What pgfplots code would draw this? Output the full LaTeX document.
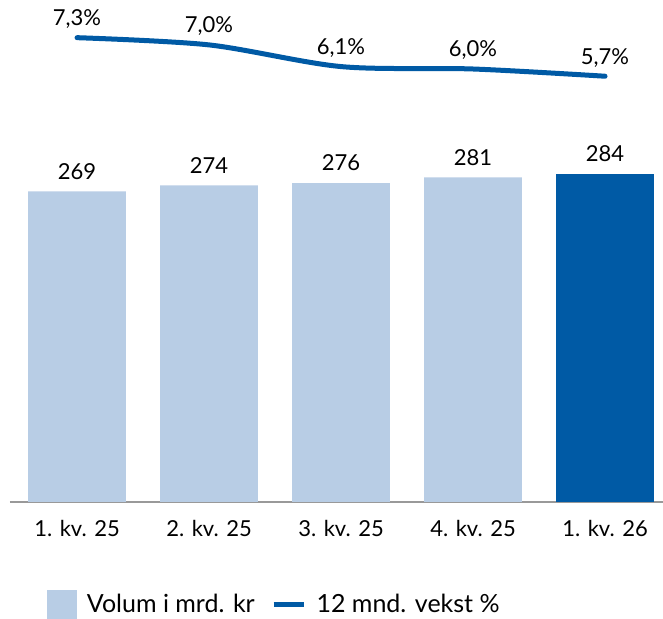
\documentclass[border=0pt]{standalone}
\usepackage{pgfplots}
\pgfplotsset{compat=1.18}
\usepackage{fontspec}
\setmainfont{Lato}
\definecolor{lightbar}{HTML}{B8CDE5}
\definecolor{darkblue}{HTML}{005AA5}
\pgfplotsset{/pgf/number format/assume math mode=true}
\begin{document}
\begin{tikzpicture}
\begin{axis}[
  name=ax,
  scale only axis, width=326.5pt, height=251pt,
  xmin=-0.508, xmax=4.439, ymin=0, ymax=434.6,
  axis x line*=bottom, axis y line=none,
  x axis line style={draw=black!40, line width=0.6pt},
  xtick={0,1,2,3,4},
  xticklabels={1. kv. 25, 2. kv. 25, 3. kv. 25, 4. kv. 25, 1. kv. 26},
  major tick length=0pt,
  xticklabel style={font=\fontsize{11}{13}\selectfont, anchor=base, yshift=-17.3pt},
  ytick=\empty,
  ybar, bar width=0.74, bar shift=0pt,
  nodes near coords,
  nodes near coords style={font=\fontsize{11}{13}\selectfont, anchor=base, yshift=6.1pt, text=black},
  clip=false,
  legend columns=2,
  legend style={draw=none, fill=none, inner sep=0pt, outer sep=0pt,
    at={(axis description cs:0.056,-0.205)}, anchor=west,
    font=\fontsize{12.5}{15}\selectfont,
    nodes={inner xsep=5.2pt, inner ysep=0pt},
    /tikz/every even column/.append style={column sep=3pt}},
]
\addplot[fill=lightbar, draw=none,
  legend image code/.code={\fill[lightbar] (0pt,-7.5pt) rectangle (15pt,7.5pt);}]
  coordinates {(0,269) (1,274) (2,276) (3,281)};
\addlegendentry{Volum i mrd. kr}
\addplot[fill=darkblue, draw=none, forget plot] coordinates {(4,284)};
\addlegendimage{legend image code/.code={\draw[darkblue, line width=2.5pt] (0pt,0pt) -- (15pt,0pt);}}
\addlegendentry{12 mnd. vekst \%}
\coordinate (O) at (rel axis cs:0,0);
\coordinate (T) at (rel axis cs:1,1);
\end{axis}
\begin{axis}[
  scale only axis, width=326.5pt, height=251pt,
  xmin=-0.508, xmax=4.439, ymin=-11.97, ymax=8.864,
  axis lines=none, clip=false,
  nodes near coords={\pgfmathprintnumber[fixed,fixed zerofill,precision=1,use comma]{\pgfplotspointmeta}\%},
  nodes near coords style={font=\fontsize{11}{13}\selectfont, anchor=base, yshift=6pt, text=black},
]
\addplot[darkblue, line width=2.5pt, smooth, line cap=round, mark=none]
  coordinates {(0,7.3) (1,7.0) (2,6.1) (3,6.0) (4,5.7)};
\end{axis}
\pgfresetboundingbox
\useasboundingbox ([xshift=-5pt,yshift=-58.5pt]O) rectangle (T);
\end{tikzpicture}
\end{document}
